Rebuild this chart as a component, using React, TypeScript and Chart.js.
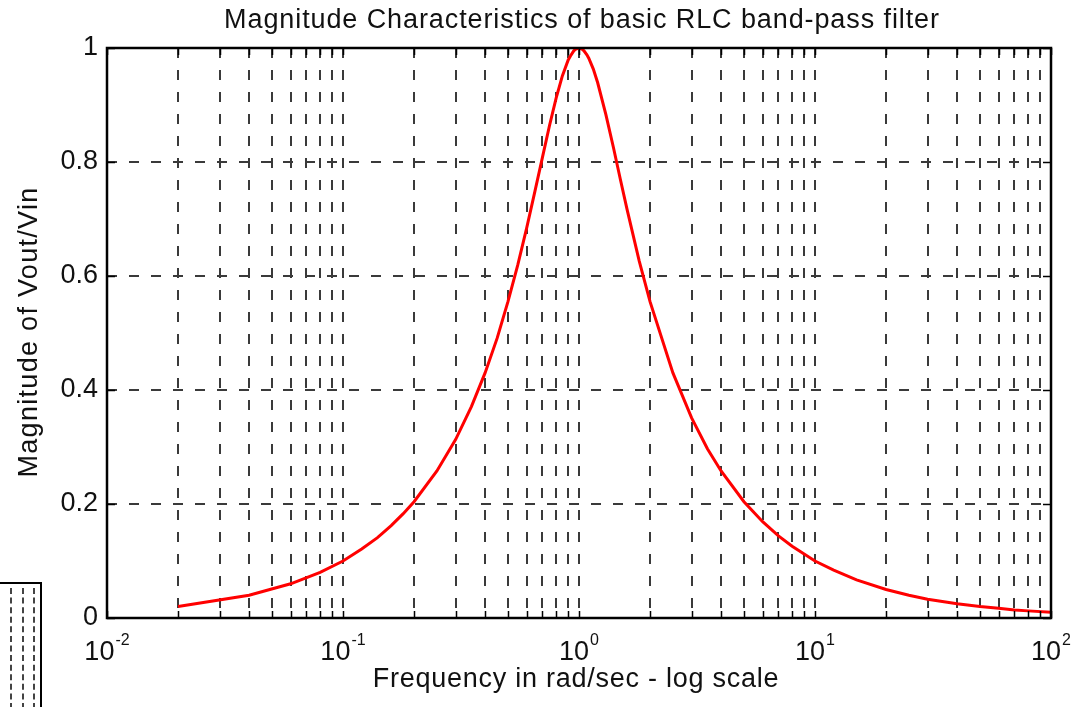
import React, { useEffect, useRef } from "react";
import { Chart, registerables } from "chart.js";

Chart.register(...registerables);

// ---- data ----
const frequency = [
  0.02, 0.04, 0.06, 0.08, 0.1, 0.12, 0.14, 0.16, 0.18, 0.2, 0.25, 0.3, 0.35, 0.4, 0.45, 0.5,
  0.55, 0.6, 0.65, 0.7, 0.75, 0.8, 0.85, 0.9, 0.92, 0.95, 0.97, 1.0, 1.03, 1.05, 1.08, 1.1,
  1.15, 1.2, 1.3, 1.4, 1.5, 1.6, 1.8, 2.0, 2.5, 3, 3.5, 4, 5, 6, 7, 8, 10, 12, 15, 20, 25,
  30, 40, 50, 60, 70, 80, 100,
];
const magnitude = [
  0.02, 0.04, 0.06, 0.08, 0.1, 0.121, 0.141, 0.162, 0.183, 0.204, 0.258, 0.313, 0.371, 0.43,
  0.491, 0.555, 0.619, 0.684, 0.748, 0.808, 0.864, 0.912, 0.951, 0.979, 0.986, 0.995, 0.998,
  1.0, 0.998, 0.995, 0.988, 0.982, 0.963, 0.939, 0.883, 0.825, 0.768, 0.716, 0.626, 0.555,
  0.43, 0.351, 0.297, 0.258, 0.204, 0.169, 0.144, 0.126, 0.1, 0.084, 0.067, 0.05, 0.04,
  0.033, 0.025, 0.02, 0.017, 0.014, 0.0125, 0.01,
];

const xGridValues = [
  0.01, 0.02, 0.03, 0.04, 0.05, 0.06, 0.07, 0.08, 0.09,
  0.1, 0.2, 0.3, 0.4, 0.5, 0.6, 0.7, 0.8, 0.9,
  1, 2, 3, 4, 5, 6, 7, 8, 9,
  10, 20, 30, 40, 50, 60, 70, 80, 90,
  100,
];
const decadeValues = [0.01, 0.1, 1, 10, 100];
const decadeExponents = ["-2", "-1", "0", "1", "2"];
const yTickValues = [0, 0.2, 0.4, 0.6, 0.8, 1];
const yTickLabels = ["0", "0.2", "0.4", "0.6", "0.8", "1"];

const chartTitle = "Magnitude Characteristics of basic RLC band-pass filter";
const xTitle = "Frequency in rad/sec - log scale";
const yTitle = "Magnitude of Vout/Vin";

const FONT = '"Liberation Sans", Arial, Helvetica, sans-serif';

const decorPlugin = {
  id: "decor",
  afterDraw(chart: any) {
    const { ctx, chartArea: a, scales } = chart;
    const xs = scales.x;
    const ys = scales.y;
    ctx.save();
    // inward tick marks
    ctx.strokeStyle = "#000";
    ctx.lineWidth = 1.5;
    ctx.setLineDash([]);
    ctx.beginPath();
    for (const v of xGridValues) {
      const px = Math.round(xs.getPixelForValue(v)) + 0.5;
      ctx.moveTo(px, a.bottom);
      ctx.lineTo(px, a.bottom - 7);
      ctx.moveTo(px, a.top);
      ctx.lineTo(px, a.top + 7);
    }
    for (const v of yTickValues) {
      const py = Math.round(ys.getPixelForValue(v)) + 0.5;
      ctx.moveTo(a.left, py);
      ctx.lineTo(a.left + 8, py);
      ctx.moveTo(a.right, py);
      ctx.lineTo(a.right - 8, py);
    }
    ctx.stroke();
    // axes box
    ctx.lineWidth = 2.5;
    ctx.strokeRect(a.left, a.top, a.right - a.left, a.bottom - a.top);

    // texts
    ctx.fillStyle = "#111";
    ctx.textBaseline = "alphabetic";
    ctx.font = `27px ${FONT}`;
    ctx.textAlign = "center";
    (ctx as any).letterSpacing = "0.9px";
    ctx.fillText(chartTitle, (a.left + a.right) / 2 + 3, 28);
    (ctx as any).letterSpacing = "0.75px";
    ctx.fillText(xTitle, (a.left + a.right) / 2 - 3, 687);

    ctx.save();
    ctx.translate(37, 332);
    ctx.rotate(-Math.PI / 2);
    (ctx as any).letterSpacing = "1.3px";
    ctx.fillText(yTitle, 0, 0);
    ctx.restore();
    (ctx as any).letterSpacing = "0px";

    // decade labels 10^n
    ctx.textAlign = "left";
    decadeValues.forEach((v, i) => {
      const px = xs.getPixelForValue(v);
      ctx.font = `27px ${FONT}`;
      const w1 = ctx.measureText("10").width;
      ctx.font = `16px ${FONT}`;
      const w2 = ctx.measureText(decadeExponents[i]).width;
      const start = px - (w1 + w2 + 1) / 2;
      ctx.font = `27px ${FONT}`;
      ctx.fillText("10", start, 660);
      ctx.font = `16px ${FONT}`;
      ctx.fillText(decadeExponents[i], start + w1 + 1, 645);
    });
    ctx.restore();
  },
};

export default function App() {
  const canvasRef = useRef<HTMLCanvasElement | null>(null);

  useEffect(() => {
    const canvas = canvasRef.current;
    if (!canvas) return;
    const chart = new Chart(canvas, {
      type: "line",
      data: {
        datasets: [
          {
            data: frequency.map((f, i) => ({ x: f, y: magnitude[i] })),
            borderColor: "#ff0000",
            borderWidth: 3,
            pointRadius: 0,
            tension: 0,
            fill: false,
          },
        ],
      },
      options: {
        responsive: false,
        animation: false,
        devicePixelRatio: 1,
        layout: { padding: { left: 0, top: 48, right: 25, bottom: 0 } },
        plugins: {
          legend: { display: false },
          title: { display: false },
          tooltip: { enabled: false },
        },
        scales: {
          x: {
            type: "logarithmic",
            min: 0.01,
            max: 100,
            afterBuildTicks: (scale: any) => {
              scale.ticks = xGridValues.map((v) => ({ value: v }));
            },
            afterFit: (scale: any) => {
              scale.height = 89;
            },
            ticks: { display: false },
            grid: { color: "#3a3a3a", lineWidth: 2, drawTicks: false },
            border: { display: false, dash: [10, 12] },
          },
          y: {
            type: "linear",
            min: 0,
            max: 1,
            afterBuildTicks: (scale: any) => {
              scale.ticks = yTickValues.map((v) => ({ value: v }));
            },
            afterFit: (scale: any) => {
              scale.width = 107;
            },
            ticks: {
              padding: 9,
              color: "#111",
              font: { family: FONT, size: 27 },
              callback: (_v: any, i: number) => yTickLabels[i],
            },
            grid: { color: "#3a3a3a", lineWidth: 2, drawTicks: false },
            border: { display: false, dash: [10, 12] },
          },
        },
      },
      plugins: [decorPlugin],
    });
    return () => chart.destroy();
  }, []);

  const dashed = (left: number) => ({
    position: "absolute" as const,
    left,
    top: 4,
    height: 121,
    borderLeft: "2px dashed #444",
  });

  return (
    <div style={{ position: "absolute", left: 0, top: 0, width: 1076, height: 707, background: "#fff", overflow: "hidden" }}>
      <canvas ref={canvasRef} width={1076} height={707} style={{ display: "block" }} />
      <div
        style={{
          position: "absolute",
          left: 0,
          top: 582,
          width: 40,
          height: 125,
          borderTop: "2px solid #000",
          borderRight: "2px solid #000",
        }}
      >
        <div style={dashed(10)} />
        <div style={dashed(22)} />
        <div style={dashed(33)} />
      </div>
    </div>
  );
}
